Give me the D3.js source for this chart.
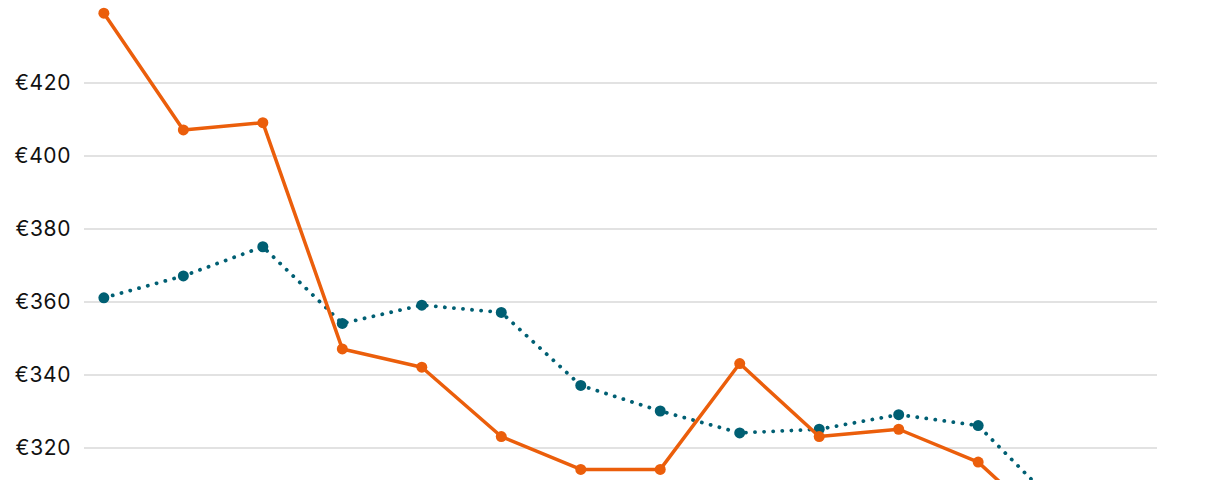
<!DOCTYPE html>
<html>
<head>
<meta charset="utf-8">
<script src="https://cdn.jsdelivr.net/npm/d3@7"></script>
<style>
  body { margin: 0; background: #fff; overflow: hidden; }
  svg { display: block; }
  .tick text { font-family: Inter, "Noto Sans", sans-serif; font-size: 21px; letter-spacing: 0.6px; fill: #111; }
</style>
</head>
<body>
<div class="chart"></div>
<script>
// data (last points lie below the visible area, estimated)
var categories = ["1", "2", "3", "4", "5", "6", "7", "8", "9", "10", "11", "12", "13", "14"];
var seriesOrange = [439, 407, 409, 347, 342, 323, 314, 314, 343, 323, 325, 316, 296, 290];
var seriesTeal = [361, 367, 375, 354, 359, 357, 337, 330, 324, 325, 329, 326, 304, 302];
var yTicks = [320, 340, 360, 380, 400, 420];

var width = 1220, height = 480;

var svg = d3.select(".chart")
    .append("svg")
    .attr("width", width)
    .attr("height", height);

var x = d3.scalePoint()
    .domain(categories)
    .range([84, 1157])
    .padding(0.25);

var y = d3.scaleLinear()
    .domain([300, 440])
    .range([520.5, 9.5]);

// gridlines + labels
var yAxis = d3.axisLeft(y)
    .tickValues(yTicks)
    .tickSize(-(1157 - 84))
    .tickPadding(13)
    .tickFormat(function(d) { return "€" + d; });

var g = svg.append("g")
    .attr("transform", "translate(84,0)")
    .call(yAxis);
g.select(".domain").remove();
g.selectAll(".tick line").attr("stroke", "#d9d9d9").attr("stroke-width", 1.5);

function drawSeries(values, color, dashed) {
  var line = d3.line()
      .x(function(d, i) { return x(categories[i]); })
      .y(function(d) { return y(d); });

  svg.append("path")
      .datum(values)
      .attr("fill", "none")
      .attr("stroke", color)
      .attr("stroke-width", dashed ? 3.8 : 3.5)
      .attr("stroke-linecap", "round")
      .attr("stroke-linejoin", "round")
      .attr("stroke-dasharray", dashed ? "0.1 9" : null)
      .attr("d", line);

  svg.selectAll(null)
      .data(values)
      .enter()
      .append("circle")
      .attr("cx", function(d, i) { return x(categories[i]); })
      .attr("cy", function(d) { return y(d); })
      .attr("r", 5.5)
      .attr("fill", color);
}

drawSeries(seriesTeal, "#005f73", true);
drawSeries(seriesOrange, "#eb5e0b", false);
</script>
</body>
</html>
